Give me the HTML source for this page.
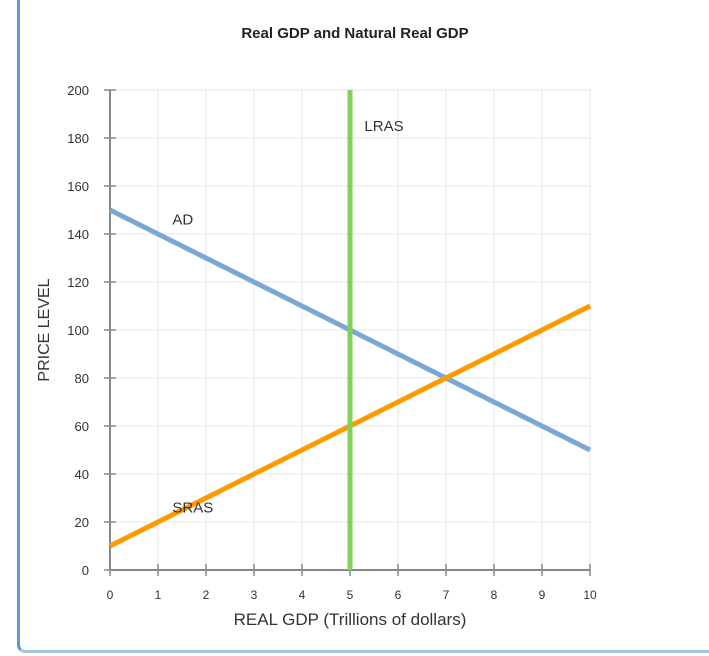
<!DOCTYPE html>
<html><head><meta charset="utf-8"><style>
body{margin:0;width:709px;height:656px;background:#fff;overflow:hidden;font-family:"Liberation Sans",Arial,sans-serif}
#frame{position:absolute;left:17px;top:-10px;width:720px;height:663px;border-left:3px solid #5b9bd5;border-bottom:3px solid #a9c4e0;border-bottom-left-radius:8px;box-sizing:border-box}
</style></head><body>
<div id="frame"></div>
<svg id="chart" width="709" height="656" style="position:absolute;left:0;top:0">
<text x="355" y="38" text-anchor="middle" font-size="15" font-weight="bold" fill="#222">Real GDP and Natural Real GDP</text>
<g id="grid"></g><g id="axes"></g><g id="series"></g>
<text x="350" y="625" text-anchor="middle" font-size="17" fill="#333">REAL GDP (Trillions of dollars)</text>
<text transform="translate(49,330) rotate(-90)" text-anchor="middle" font-size="16" fill="#333">PRICE LEVEL</text>
</svg>
<script>
const xTicks=[0,1,2,3,4,5,6,7,8,9,10];
const yTicks=[0,20,40,60,80,100,120,140,160,180,200];
const adX=[0,10], adY=[150,50];
const srasX=[0,10], srasY=[10,110];
const lrasX=[5,5], lrasY=[0,200];
const seriesNames=["AD","SRAS","LRAS"];
const labelPos=[[1.3,144],[1.3,24],[5.3,183]];
const X0=110,X1=590,Y0=570,Y1=90;
const sx=v=>X0+(v-0)/(10-0)*(X1-X0);
const sy=v=>Y0-(v-0)/(200-0)*(Y0-Y1);
const NS="http://www.w3.org/2000/svg";
function mk(p,t,a){const e=document.createElementNS(NS,t);for(const k in a)e.setAttribute(k,a[k]);p.appendChild(e);return e;}
const grid=document.getElementById('grid'),axes=document.getElementById('axes'),ser=document.getElementById('series');
xTicks.forEach(t=>{const l=mk(grid,'line',{x1:sx(t),x2:sx(t),y1:Y1,y2:Y0,stroke:'#eeeeee','stroke-width':1.5});


const k=mk(axes,'line',{x1:sx(t),x2:sx(t),y1:Y0-6,y2:Y0+6,stroke:'#888','stroke-width':1.5});


const s=mk(axes,'text',{x:sx(t),y:Y0+29,'text-anchor':'middle','font-size':12,fill:'#333'});s.textContent=t;

});
yTicks.forEach(t=>{const l=mk(grid,'line',{x1:X0,x2:X1,y1:sy(t),y2:sy(t),stroke:'#eeeeee','stroke-width':1.5});


const k=mk(axes,'line',{x1:X0-6,x2:X0+6,y1:sy(t),y2:sy(t),stroke:'#888','stroke-width':1.5});


const s=mk(axes,'text',{x:89,y:sy(t)+5,'text-anchor':'end','font-size':13,fill:'#333'});s.textContent=t;

});
const ya=mk(axes,'line',{x1:X0,x2:X0,y1:Y1,y2:Y0,stroke:'#888','stroke-width':2});


const xa=mk(axes,'line',{x1:X0,x2:X1,y1:Y0,y2:Y0,stroke:'#888','stroke-width':2});


const data=[[adX,adY,'#7ba7d4','ad-line'],[srasX,srasY,'#ff9900','sras-line'],[lrasX,lrasY,'#7dd35a','lras-line']];
data.forEach(([xs,ys,c,n],i)=>{const l=mk(ser,'line',{x1:sx(xs[0]),y1:sy(ys[0]),x2:sx(xs[1]),y2:sy(ys[1]),stroke:c,'stroke-width':5});


const t=mk(ser,'text',{x:sx(labelPos[i][0]),y:sy(labelPos[i][1]),'font-size':15,fill:'#333'});t.textContent=seriesNames[i];

});
</script>
</body></html>
